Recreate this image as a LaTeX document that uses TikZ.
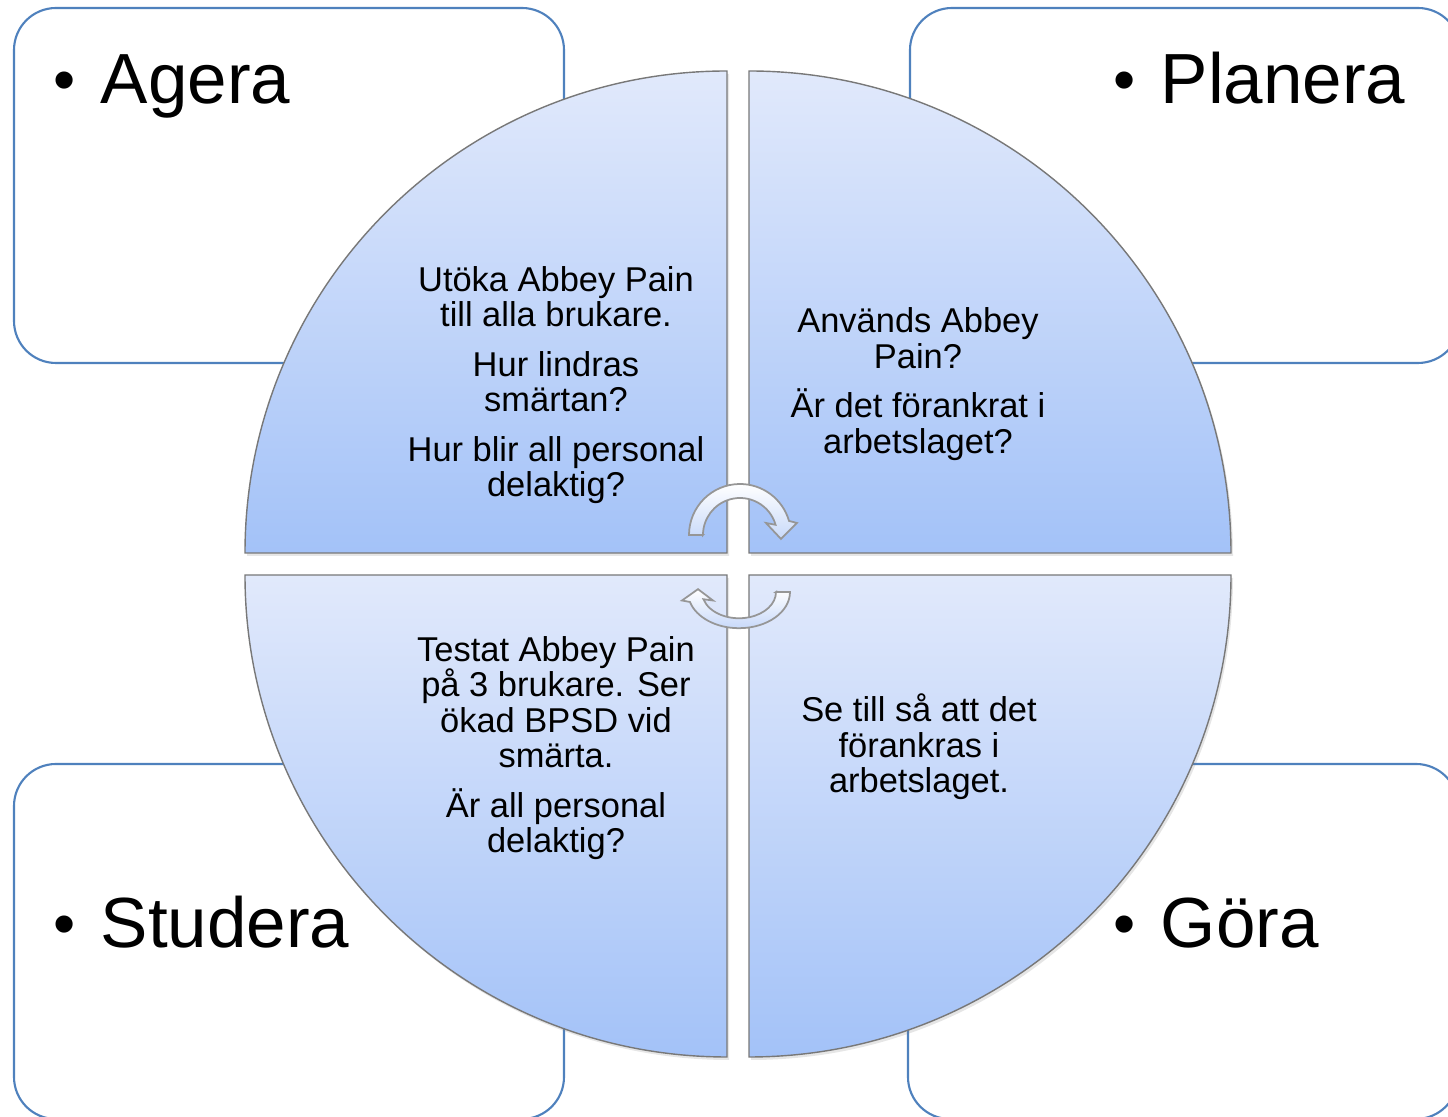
\documentclass[tikz,border=0pt]{standalone}
\usepackage{fontspec}
\setmainfont{Liberation Sans}
\usetikzlibrary{shadows}

\definecolor{boxblue}{RGB}{79,129,189}
\definecolor{segtop}{RGB}{225,233,251}
\definecolor{segbot}{RGB}{163,194,248}
\definecolor{seggray}{RGB}{120,120,120}
\definecolor{arrowgray}{RGB}{150,150,150}

\newcommand{\phasedot}{\raisebox{0.8pt}{\fontsize{18}{18}\selectfont •}\hspace{7.1pt}}

\tikzset{
  cornerbox/.style={draw=boxblue, line width=0.6pt, rounded corners=0.42cm, fill=white},
  segment/.style={draw=seggray, line width=0.4pt, top color=segtop, bottom color=segbot,
    drop shadow={opacity=0.2, shadow xshift=0.02cm, shadow yshift=-0.03cm}},
  segtext/.style={align=center, inner sep=0pt, font=\fontsize{9.8}{10.1}\selectfont},
  phase/.style={anchor=base west, inner sep=0pt, font=\fontsize{20.2}{24}\selectfont},
  turnarrow/.style={draw=arrowgray, line width=0.5pt, top color=white, bottom color=segtop!60!segbot}
}

\begin{document}
\begin{tikzpicture}
\useasboundingbox (0,0) rectangle (14.48,11.17);
\clip (0,0) rectangle (14.48,11.17);
% Corner boxes
\draw[cornerbox] (0.14,11.09) rectangle (5.64,7.54);
\draw[cornerbox] (9.10,11.09) rectangle (14.60,7.54);
\draw[cornerbox] (0.14,3.53) rectangle (5.64,-0.02);
\draw[cornerbox] (9.08,3.53) rectangle (14.58,-0.02);
\node[phase] (agera) at (0.53,10.13) {\phasedot Agera};
\node[phase] (planera) at (11.13,10.13) {\phasedot Planera};
\node[phase] (studera) at (0.53,1.69) {\phasedot Studera};
\node[phase] (gora) at (11.13,1.69) {\phasedot Göra};
% Quarter segments
\draw[segment] (7.27,5.64) -- (2.45,5.64) arc[start angle=180, end angle=90, radius=4.82] -- cycle;
\draw[segment] (7.49,5.64) -- (7.49,10.46) arc[start angle=90, end angle=0, radius=4.82] -- cycle;
\draw[segment] (7.27,5.42) -- (7.27,0.60) arc[start angle=270, end angle=180, radius=4.82] -- cycle;
\draw[segment] (7.49,5.42) -- (12.31,5.42) arc[start angle=0, end angle=-90, radius=4.82] -- cycle;
% Segment texts
\node[segtext] (act) at (5.56,7.32) {Utöka Abbey Pain\\till alla brukare.\\[4pt]Hur lindras\\smärtan?\\[4pt]Hur blir all personal\\delaktig?};
\node[segtext] (plan) at (9.18,7.33) {Används Abbey\\Pain?\\[4pt]Är det förankrat i\\arbetslaget?};
\node[segtext] (study) at (5.56,3.69) {Testat Abbey Pain\\på 3 brukare. Ser\\ökad BPSD vid\\smärta.\\[4pt]Är all personal\\delaktig?};
\node[segtext] (do) at (9.19,3.70) {Se till så att det\\förankras i\\arbetslaget.};
% Turning arrows
\begin{scope}[shift={(7.40,5.82)}]
\draw[turnarrow] (-0.37,0) -- (-0.51,0) arc[start angle=180, end angle=16, radius=0.51]
  -- (0.57,0.12) -- (0.41,-0.04) -- (0.26,0.12) -- (16:0.37)
  arc[start angle=16, end angle=180, radius=0.37] -- cycle;
\end{scope}
\begin{scope}[shift={(7.39,5.25)}, yscale=0.71, rotate=180]
\draw[turnarrow] (-0.37,0) -- (-0.51,0) arc[start angle=180, end angle=16, radius=0.51]
  -- (0.57,0.12) -- (0.41,-0.04) -- (0.26,0.12) -- (16:0.37)
  arc[start angle=16, end angle=180, radius=0.37] -- cycle;
\end{scope}
\end{tikzpicture}
\end{document}
